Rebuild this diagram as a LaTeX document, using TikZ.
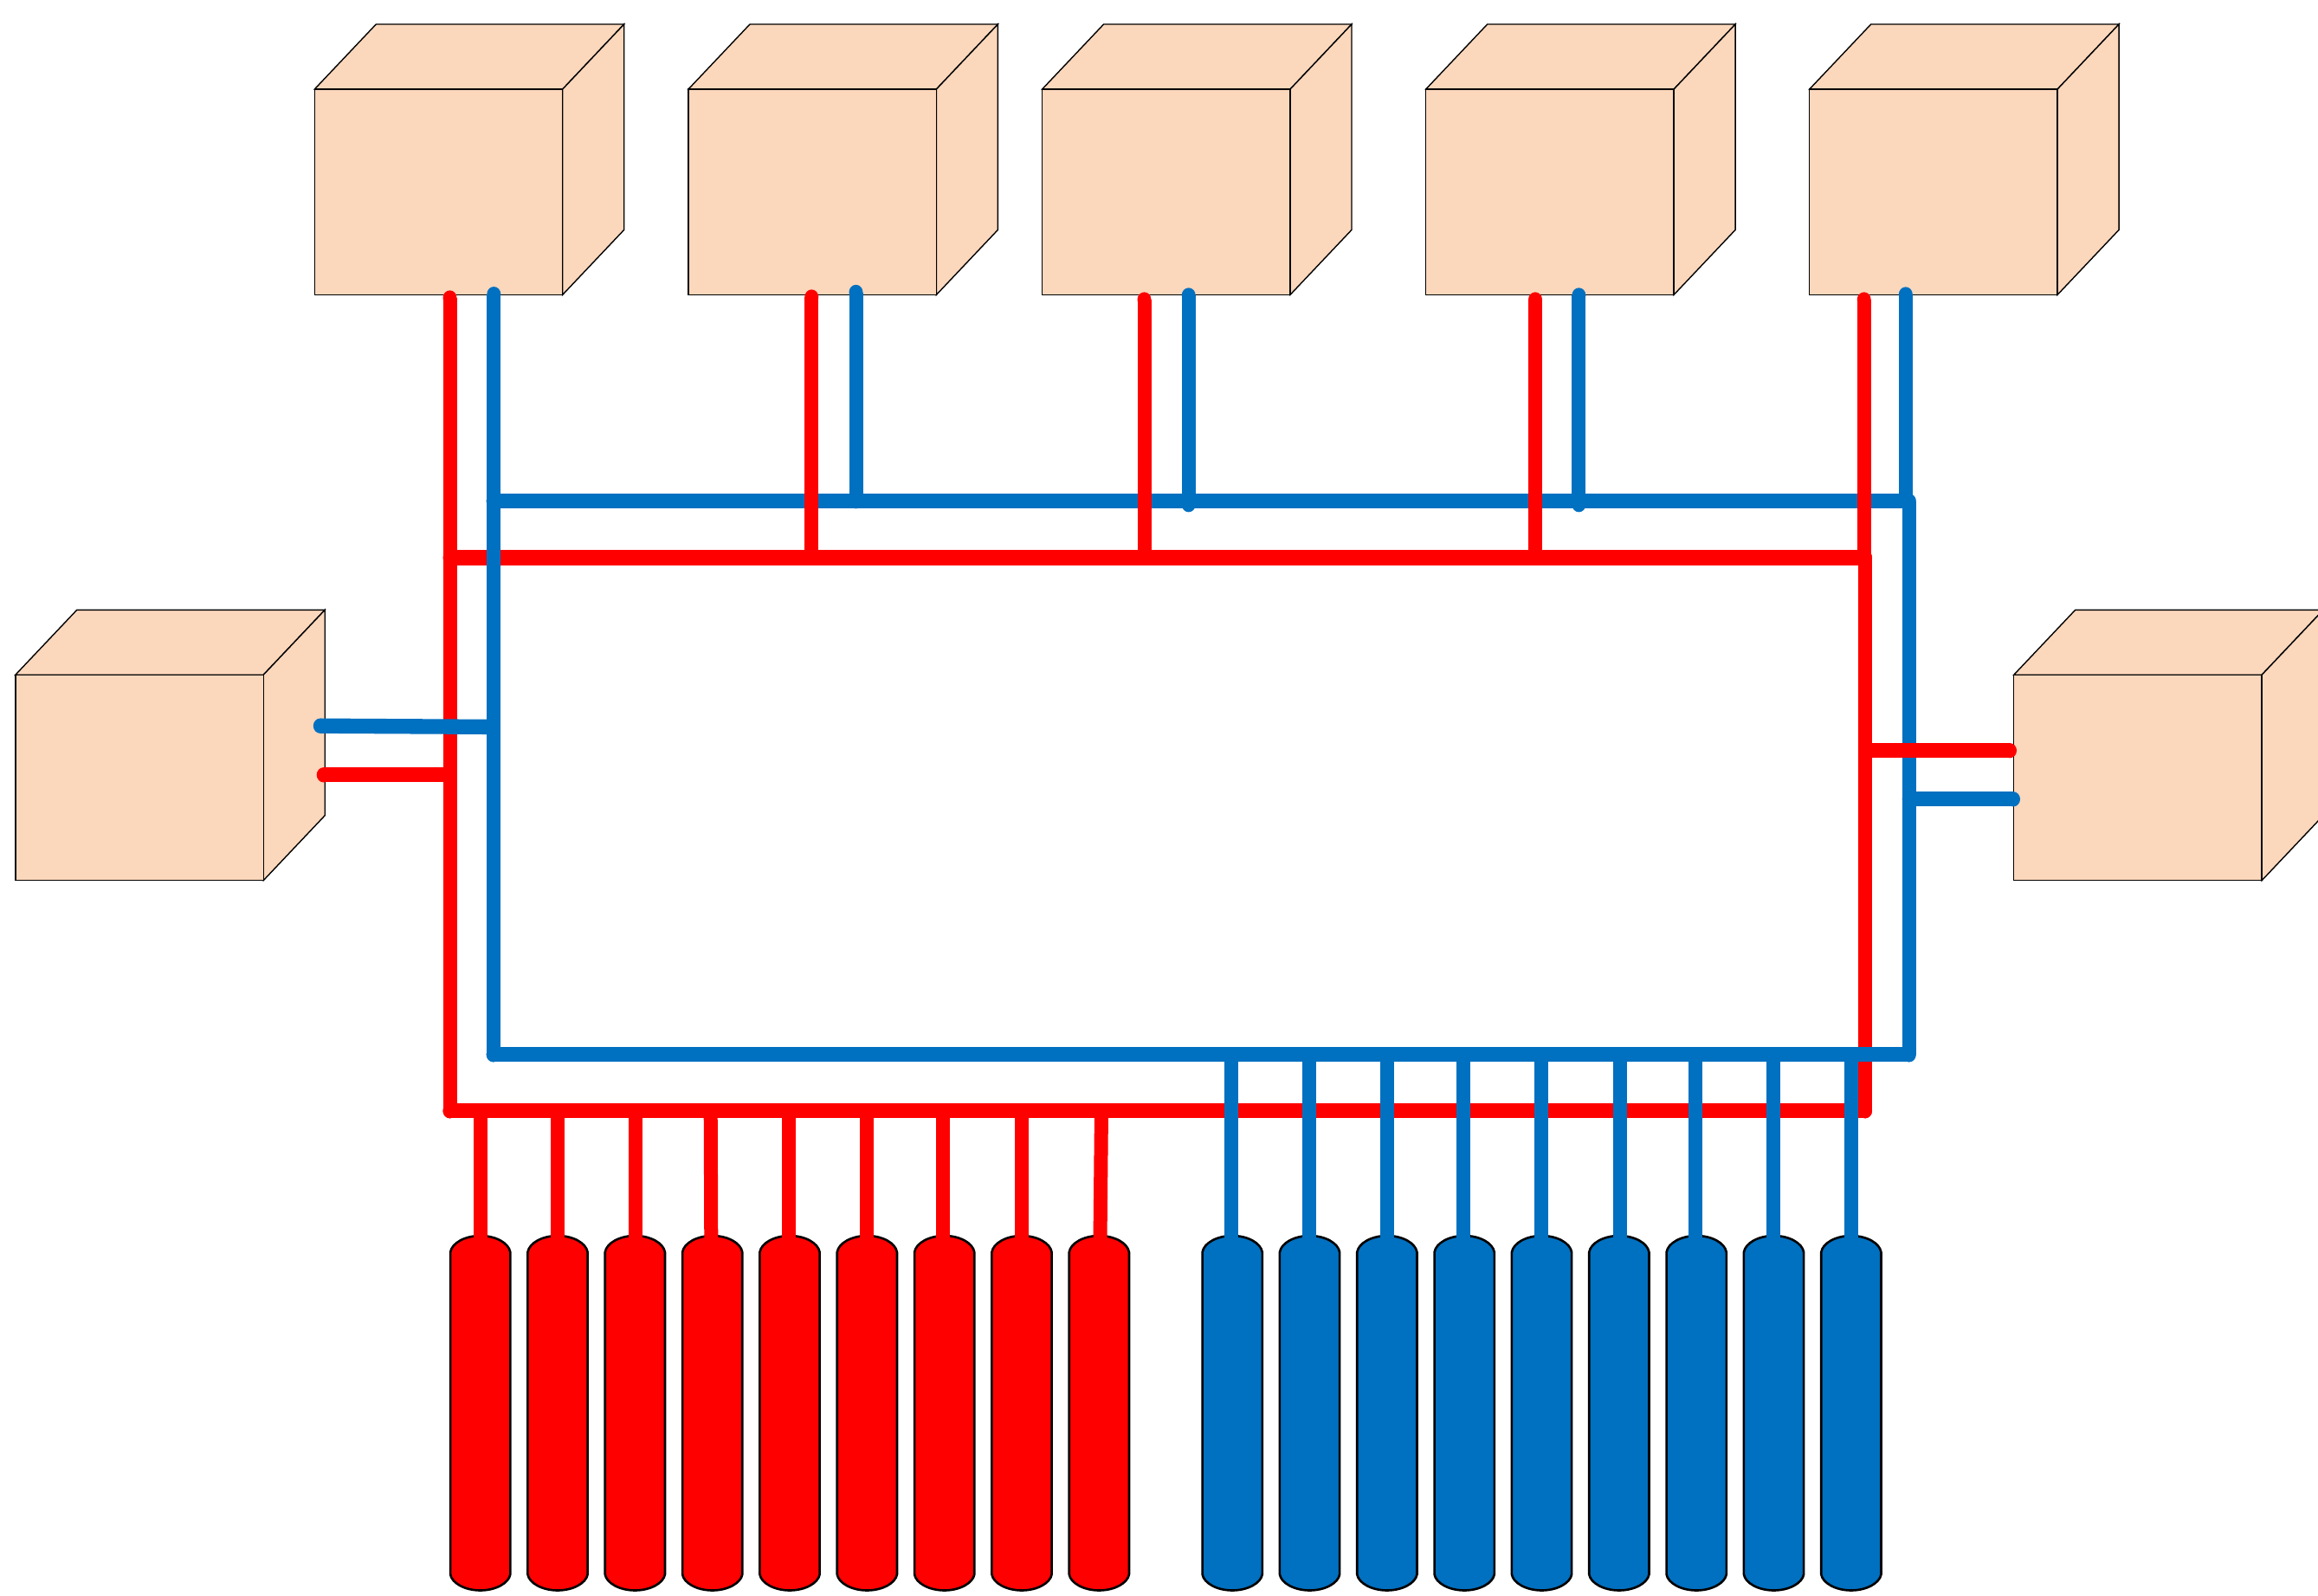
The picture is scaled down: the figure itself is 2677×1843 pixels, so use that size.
\documentclass[tikz,border=0pt]{standalone}
\definecolor{peach}{HTML}{FBD7BC}
\definecolor{pipered}{HTML}{FF0000}
\definecolor{pipeblue}{HTML}{0070C0}
\tikzset{
  x=0.3pt,y=-0.3pt,
  cubeface/.style={draw=black,fill=peach,line width=0.42pt,line join=miter},
  cylbody/.style={draw=black,line width=0.78pt},
  vpipe/.style={draw=#1,line width=4.8pt,line cap=butt},
  hpipe/.style={draw=#1,line width=5.2pt,line cap=butt},
  pipeend/.style={fill=#1},
  cubeat/.style={shift={(#1)}}
}
% a pipe: butt-ended stroke closed by elliptical ends that fit both stroke widths
\newcommand{\pipev}[3]{%
  \draw[vpipe=#1] (#2) -- (#3);
  \fill[pipeend=#1] (#2) ellipse [x radius=8,y radius=8.65];
  \fill[pipeend=#1] (#3) ellipse [x radius=8,y radius=8.65];}
\newcommand{\pipeh}[3]{%
  \draw[hpipe=#1] (#2) -- (#3);
  \fill[pipeend=#1] (#2) ellipse [x radius=8,y radius=8.65];
  \fill[pipeend=#1] (#3) ellipse [x radius=8,y radius=8.65];}
\newcommand{\cubeshape}[1]{%
  \begin{scope}[cubeat={#1}]
    \filldraw[cubeface] (0,0) -- (71,-75) -- (357.4,-75) -- (286.4,0) -- cycle;
    \filldraw[cubeface] (286.4,0) -- (357.4,-75) -- (357.4,162.4) -- (286.4,237.4) -- cycle;
    \filldraw[cubeface] (0,0) rectangle (286.4,237.4);
  \end{scope}}
\newcommand{\cylshape}[2]{%
  \draw[cylbody,fill=#2,shift={(#1,0)}] (-34.6,1446)
    .. controls (-33,1435.5) and (-18,1427) .. (0,1427)
    .. controls (18,1427) and (33,1435.5) .. (34.6,1446)
    -- (34.6,1818)
    .. controls (33,1828) and (18,1836.5) .. (0,1836.5)
    .. controls (-18,1836.5) and (-33,1828) .. (-34.6,1818)
    -- cycle;}
\begin{document}
\begin{tikzpicture}
\path[use as bounding box] (0,0) rectangle (2677,1843);
\clip (0,0) rectangle (2677,1843);
\fill[white] (0,0) rectangle (2677,1843);

% cubes
\foreach \p in {363.3,795,1203.6,1646.7,2089.7} {\cubeshape{\p,103}}
\cubeshape{17.8,779.3}
\cubeshape{2325.7,779.3}

% cylinders
\foreach \c in {0,...,8} {
  \pgfmathsetmacro{\rx}{554.7+89.33*\c}
  \pgfmathsetmacro{\bx}{1423.2+89.33*\c}
  \cylshape{\rx}{pipered}
  \cylshape{\bx}{pipeblue}
}

% named junctions of the red and blue loops
\coordinate (RTL) at (519.5,644);
\coordinate (RTR) at (2154,644);
\coordinate (RBL) at (519.5,1282.7);
\coordinate (RBR) at (2154,1282.7);
\coordinate (BTL) at (569.7,578.7);
\coordinate (BTR) at (2204.7,578.7);
\coordinate (BBL) at (569.7,1217.7);
\coordinate (BBR) at (2204.7,1217.7);
\coordinate (RA) at (519.5,344);

% red loop
\pipev{pipered}{RA}{RBL}
\pipev{pipered}{RTR}{RBR}
\pipeh{pipered}{RTL}{RTR}
\pipeh{pipered}{RBL}{RBR}

% red feeds to the lower cylinders
\foreach \a/\b in {555/555,644.4/644.4,733.5/733.5,820.7/821.3,911.2/911.2,1000.5/1000.5,1089.3/1089.3,1179.7/1179.7,1272/1270.5} {
  \draw[vpipe=pipered] (\a,1282.7) -- (\b,1434);
}
\coordinate (LRa) at (373.7,894.8);
\coordinate (LRb) at (519.5,894.8);
\pipeh{pipered}{LRa}{LRb}

% blue loop
\pipev{pipeblue}{BTL}{BBL}
\pipev{pipeblue}{BTR}{BBR}
\pipeh{pipeblue}{BTL}{BTR}
\pipeh{pipeblue}{BBL}{BBR}

% blue feeds to the lower cylinders
\foreach \a in {1422,1512,1601.5,1690,1780,1871,1958,2048.3,2137.8} {
  \draw[vpipe=pipeblue] (\a,1217.7) -- (\a,1434);
}
\coordinate (LBa) at (369.8,838.2);
\coordinate (LBb) at (569.7,839.4);
\pipeh{pipeblue}{LBa}{LBb}
\coordinate (RBa) at (2325,922.8);
\coordinate (RBb) at (2204.7,922.8);
\pipeh{pipeblue}{RBa}{RBb}

% blue risers to the upper cubes
\coordinate (Ba1) at (570.3,339.7);  \coordinate (Bb1) at (570.3,578.7);
\coordinate (Ba2) at (988.5,337.5);  \coordinate (Bb2) at (988.5,578.7);
\coordinate (Ba3) at (1372.7,341);   \coordinate (Bb3) at (1372.7,582.7);
\coordinate (Ba4) at (1823.4,341);   \coordinate (Bb4) at (1823.4,582.7);
\coordinate (Ba5) at (2200.8,340);   \coordinate (Bb5) at (2200.8,578.7);
\foreach \k in {1,...,5} {\pipev{pipeblue}{Ba\k}{Bb\k}}

% red risers to the upper cubes
\coordinate (Ra2) at (937.3,343);    \coordinate (Rb2) at (937.3,644);
\coordinate (Ra3) at (1321.5,346);   \coordinate (Rb3) at (1321.5,644);
\coordinate (Ra4) at (1773,346);     \coordinate (Rb4) at (1773,644);
\coordinate (Ra5) at (2152.7,346);   \coordinate (Rb5) at (2152.7,644);
\foreach \k in {2,...,5} {\pipev{pipered}{Ra\k}{Rb\k}}
\coordinate (RRa) at (2154,866.7);
\coordinate (RRb) at (2321,866.7);
\pipeh{pipered}{RRa}{RRb}
\end{tikzpicture}
\end{document}
